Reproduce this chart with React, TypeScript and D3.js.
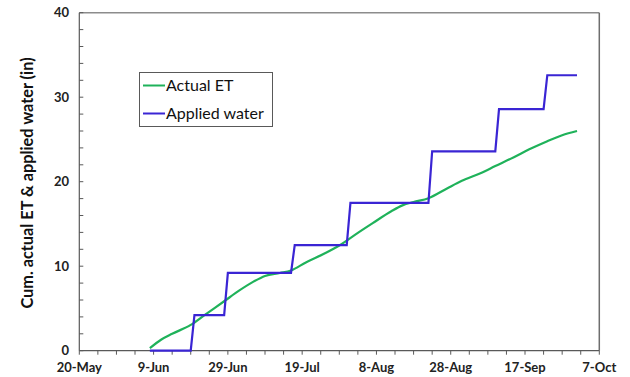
import React from "react";
import * as d3 from "d3";

const xTickDates = ["2019-05-20", "2019-06-09", "2019-06-29", "2019-07-19", "2019-08-08", "2019-08-28", "2019-09-17", "2019-10-07"];
const yTicks = [0, 10, 20, 30, 40];

const etDates = ["2019-06-08", "2019-06-11", "2019-06-14", "2019-06-19", "2019-06-23", "2019-06-28", "2019-07-02", "2019-07-06", "2019-07-09", "2019-07-13", "2019-07-16", "2019-07-20", "2019-07-25", "2019-07-29", "2019-08-03", "2019-08-07", "2019-08-12", "2019-08-15", "2019-08-18", "2019-08-22", "2019-08-27", "2019-08-31", "2019-09-05", "2019-09-09", "2019-09-14", "2019-09-18", "2019-09-23", "2019-09-27", "2019-10-01"];
const etValues = [0.3, 1.3, 2.0, 3.05, 4.3, 5.85, 7.1, 8.2, 8.85, 9.2, 9.5, 10.45, 11.5, 12.45, 13.95, 15.1, 16.5, 17.2, 17.6, 18.05, 19.2, 20.1, 21.0, 21.85, 22.9, 23.8, 24.8, 25.5, 26.0];

const appliedDates = ["2019-06-08", "2019-06-19", "2019-06-20", "2019-06-28", "2019-06-29", "2019-07-16", "2019-07-17", "2019-07-31", "2019-08-01", "2019-08-22", "2019-08-23", "2019-09-09", "2019-09-10", "2019-09-22", "2019-09-23", "2019-10-01"];
const appliedValues = [0, 0, 4.2, 4.2, 9.2, 9.2, 12.5, 12.5, 17.5, 17.5, 23.6, 23.6, 28.6, 28.6, 32.6, 32.6];

const seriesNames = ["Actual ET", "Applied water"];
const seriesColors = ["#1fb25a", "#3a25d4"];

const parse = d3.utcParse("%Y-%m-%d");
const fmt = d3.utcFormat("%-d-%b");

export default function App() {
  const W = 630, H = 377;
  const x0 = 79.3, x1 = 599.3, yTop = 12.7, yBot = 350.7;
  const start = parse(xTickDates[0])!;
  const end = parse(xTickDates[xTickDates.length - 1])!;
  const x = d3.scaleTime().domain([start, end]).range([x0, x1]);
  const y = d3.scaleLinear().domain([0, 40]).range([yBot, yTop]);

  const minorX = d3.utcDay.range(start, d3.utcDay.offset(end, 1), 5);
  const minorY = d3.range(0, 41, 2);

  const et = etDates.map((d, i) => ({ date: parse(d)!, v: etValues[i] }));
  const ap = appliedDates.map((d, i) => ({ date: parse(d)!, v: appliedValues[i] }));

  const lineEt = d3.line<{ date: Date; v: number }>().x(d => x(d.date)).y(d => y(d.v)).curve(d3.curveMonotoneX);
  const lineAp = d3.line<{ date: Date; v: number }>().x(d => x(d.date)).y(d => y(d.v));

  const font = "Lato, 'Open Sans', sans-serif";
  const axisColor = "#595959";

  return (
    <svg width={W} height={H} style={{ position: "absolute", left: 0, top: 0, background: "#fff" }} fontFamily={font}>
      {/* frame top/right */}
      <line x1={x0} y1={yTop} x2={x1} y2={yTop} stroke="#8c8c8c" strokeWidth={1.5} />
      <line x1={x1} y1={yTop} x2={x1} y2={yBot} stroke="#6e6e6e" strokeWidth={1.5} />
      {/* y axis */}
      <line x1={x0} y1={yTop} x2={x0} y2={yBot} stroke={axisColor} strokeWidth={1.2} />
      {minorY.map(v => (
        <line key={"yt" + v} x1={x0} x2={x0 + 4} y1={y(v)} y2={y(v)} stroke={axisColor} strokeWidth={1} />
      ))}
      {yTicks.map(v => (
        <text key={"yl" + v} x={69} y={y(v)} dy="0.35em" textAnchor="end" fontSize={13} fontWeight="bold" fill="#222">{v}</text>
      ))}
      {/* x axis */}
      <line x1={x0} y1={yBot} x2={x1} y2={yBot} stroke={axisColor} strokeWidth={1.2} />
      {minorX.map((d, i) => (
        <line key={"xt" + i} x1={x(d)} x2={x(d)} y1={yBot} y2={yBot + 4} stroke={axisColor} strokeWidth={1} />
      ))}
      {xTickDates.map(s => {
        const d = parse(s)!;
        return (
          <text key={"xl" + s} x={x(d)} y={372} textAnchor="middle" fontSize={13} fontWeight="bold" fill="#222">{fmt(d)}</text>
        );
      })}
      {/* y title */}
      <text transform={`translate(33,183) rotate(-90)`} textAnchor="middle" fontSize={16.3} fontWeight="bold" fill="#111">
        Cum. actual ET &amp; applied water (in)
      </text>
      {/* lines */}
      <path d={lineEt(et) || ""} fill="none" stroke={seriesColors[0]} strokeWidth={2.2} />
      <path d={lineAp(ap) || ""} fill="none" stroke={seriesColors[1]} strokeWidth={2.2} />
      {/* legend */}
      <rect x={139.5} y={72.5} width={133} height={54} fill="#fff" stroke="#595959" strokeWidth={1} />
      {seriesNames.map((n, i) => (
        <g key={n}>
          <line x1={143} x2={165} y1={85.5 + i * 28} y2={85.5 + i * 28} stroke={seriesColors[i]} strokeWidth={2} />
          <text x={166} y={85.5 + i * 28} dy="0.35em" fontSize={16} fill="#111">{n}</text>
        </g>
      ))}
    </svg>
  );
}
